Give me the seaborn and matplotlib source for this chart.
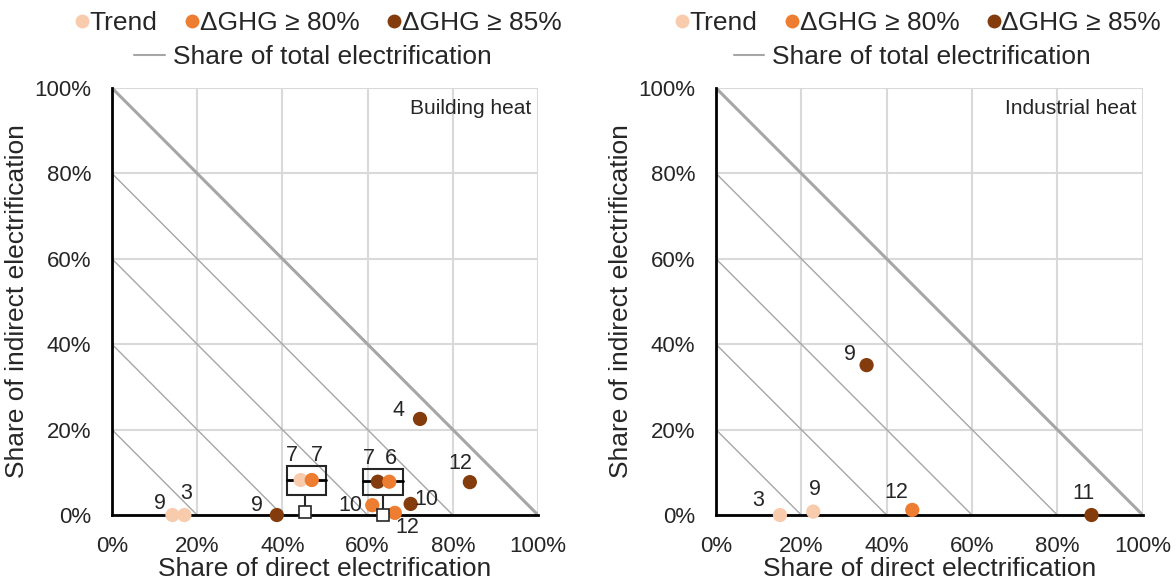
import matplotlib
matplotlib.use("Agg")
import matplotlib.pyplot as plt
import matplotlib.patches as mpatches
from matplotlib.lines import Line2D
from matplotlib.ticker import FuncFormatter
import seaborn as sns
import pandas as pd

scenarios = ['Trend', 'ΔGHG ≥ 80%', 'ΔGHG ≥ 85%']
colors = ['#F8CBAD', '#ED7D31', '#843C0C']

# Building heat points (share of direct / indirect electrification, %)
bld_scen = ['Trend', 'Trend', 'ΔGHG ≥ 85%', 'Trend', 'ΔGHG ≥ 80%', 'ΔGHG ≥ 85%',
            'ΔGHG ≥ 80%', 'ΔGHG ≥ 80%', 'ΔGHG ≥ 80%', 'ΔGHG ≥ 85%', 'ΔGHG ≥ 85%', 'ΔGHG ≥ 85%']
bld_direct = [14.2, 17.0, 38.7, 44.3, 46.9, 62.4, 65.1, 61.1, 66.4, 70.1, 84.0, 72.3]
bld_indirect = [0, 0, 0, 8.2, 8.2, 7.8, 7.8, 2.3, 0.5, 2.6, 7.7, 22.5]
bld_label = ['9', '3', '9', '7', '7', '7', '6', '10', '12', '10', '12', '4']

# Industrial heat points
ind_scen = ['Trend', 'Trend', 'ΔGHG ≥ 80%', 'ΔGHG ≥ 85%', 'ΔGHG ≥ 85%']
ind_direct = [15.0, 22.8, 46.0, 88.0, 35.3]
ind_indirect = [0, 0.8, 1.2, 0, 35.1]
ind_label = ['3', '9', '12', '11', '9']

# boxes in building heat panel
box_dir_lo = [41.0, 59.0]
box_dir_hi = [50.2, 68.4]
box_ind_lo = [4.8, 4.8]
box_ind_hi = [11.5, 10.8]
box_med = [8.2, 8.0]
box_ref_x = [45.4, 63.5]
box_ref_y = [0.6, 0.1]

iso_levels = [20, 40, 60, 80, 100]

# label offsets in pixels
bld_off = [(-13, 12), (2, 22), (-20, 10), (-9, 25), (5, 25), (-9, 23), (2, 23),
           (-22, 0), (12, -15), (16, 4), (-10, 19), (-22, 8)]
ind_off = [(-22, 15), (2, 22), (-16, 17), (-8, 22), (-17, 11)]

sns.set_style("white")
plt.rcParams['font.family'] = ['Liberation Sans', 'DejaVu Sans']

fig = plt.figure(figsize=(11.76, 5.83), dpi=100)
ax1 = fig.add_axes([0.0952, 0.1166, 0.3623, 0.7325])
ax2 = fig.add_axes([0.6088, 0.1166, 0.3629, 0.7325])

palette = dict(zip(scenarios, colors))


def draw_panel(ax, title, scen, xs, ys, labels, offs):
    ax.set_xlim(0, 100)
    ax.set_ylim(0, 100)
    ax.set_xticks(range(0, 101, 20))
    ax.set_yticks(range(0, 101, 20))
    ax.grid(True, color='#D9D9D9', lw=1.5, zorder=0)
    ax.set_axisbelow(True)
    for s in ['top', 'right']:
        ax.spines[s].set_visible(False)
    for s in ['left', 'bottom']:
        ax.spines[s].set_color('black')
        ax.spines[s].set_linewidth(2)
        ax.spines[s].set_zorder(3)
    for c in iso_levels:
        ax.plot([0, c], [c, 0], color='#A6A6A6', lw=2.2 if c == 100 else 1.0, zorder=1)
    df = pd.DataFrame({'scen': scen, 'x': xs, 'y': ys})
    sns.scatterplot(data=df, x='x', y='y', hue='scen', palette=palette, s=105,
                    edgecolor='none', legend=False, ax=ax, zorder=5, clip_on=False)
    for x, y, t, o in zip(xs, ys, labels, offs):
        ax.annotate(t, (x, y), xytext=o, textcoords='offset pixels', ha='center',
                    va='center', fontsize=15.5, zorder=6, annotation_clip=False)
    fmt = FuncFormatter(lambda v, p: f'{v:.0f}%')
    ax.xaxis.set_major_formatter(fmt)
    ax.yaxis.set_major_formatter(fmt)
    ax.tick_params(labelsize=16, length=0)
    ax.tick_params(axis='y', pad=15)
    ax.tick_params(axis='x', pad=15)
    ax.set_xlabel('Share of direct electrification', fontsize=19, labelpad=0)
    ax.set_ylabel('Share of indirect electrification', fontsize=19, labelpad=4)
    ax.text(98.5, 97.5, title, ha='right', va='top', fontsize=15)


draw_panel(ax1, 'Building heat', bld_scen, bld_direct, bld_indirect, bld_label, bld_off)
draw_panel(ax2, 'Industrial heat', ind_scen, ind_direct, ind_indirect, ind_label, ind_off)

for lo, hi, blo, bhi, med, rx, ry in zip(box_dir_lo, box_dir_hi, box_ind_lo, box_ind_hi,
                                         box_med, box_ref_x, box_ref_y):
    ax1.add_patch(mpatches.Rectangle((lo, blo), hi - lo, bhi - blo, fill=False,
                                     edgecolor='#262626', lw=1.5, zorder=4))
    ax1.plot([lo, hi], [med, med], color='black', lw=2, zorder=4)
    ax1.plot([rx, rx], [ry, blo], color='#262626', lw=1.5, zorder=4)
    ax1.plot([rx], [ry], marker='s', ms=9, mfc='white', mec='#262626', mew=1.2,
             zorder=7, clip_on=False)

for ax, cx in [(ax1, 0.269), (ax2, 0.779)]:
    h1 = [Line2D([], [], ls='', marker='o', ms=10, mfc=c, mec='none') for c in colors]
    leg1 = fig.legend(h1, scenarios, loc='center', bbox_to_anchor=(cx, 0.960), ncol=3,
                      frameon=False, fontsize=19, handletextpad=-0.1, columnspacing=0.9,
                      handlelength=0.8)
    h2 = [Line2D([], [], color='#A6A6A6', lw=1.5)]
    leg2 = fig.legend(h2, ['Share of total electrification'], loc='center',
                      bbox_to_anchor=(cx - 0.003, 0.902), frameon=False, fontsize=19,
                      handlelength=1.15, handletextpad=0.3)

fig.savefig('out.png', dpi=100)
